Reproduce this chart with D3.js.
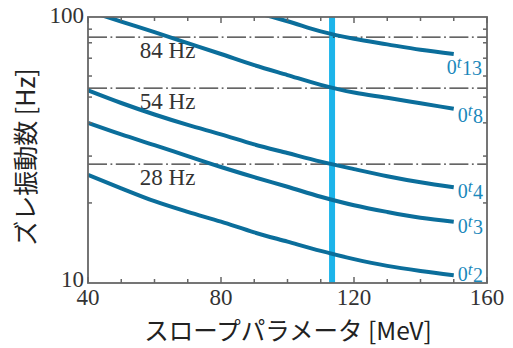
<!DOCTYPE html>
<html><head><meta charset="utf-8">
<script src="https://cdn.jsdelivr.net/npm/d3@7"></script>
<style>body{margin:0;background:#fff}svg{display:block}
.serif{font-family:"Liberation Serif","Times New Roman","DejaVu Serif",serif}
.cjk{font-family:"Noto Sans CJK JP","Noto Sans",sans-serif}</style>
</head><body><svg id="c" width="513" height="348"></svg>
<script>
// ---- data ----
const mev = [40, 50, 60, 70, 80, 90, 100, 110, 120, 130, 140, 150];
const t13 = [null, null, null, null, null, 104.3, 96.4, 88.3, 82.8, 78.9, 75.3, 72.6];
const t8  = [105.5, 96.1, 87.7, 79.8, 72.6, 65.9, 60.5, 55.6, 52.0, 49.7, 47.4, 45.2];
const t4  = [53.0, 47.5, 43.0, 39.3, 36.2, 33.2, 30.8, 28.6, 26.8, 25.2, 23.9, 22.9];
const t3  = [40.0, 36.2, 33.0, 30.0, 27.3, 25.0, 23.0, 21.1, 19.6, 18.5, 17.6, 17.0];
const t2  = [25.5, 22.7, 20.3, 18.5, 17.0, 15.5, 14.3, 13.2, 12.3, 11.6, 11.1, 10.7];
const seriesNames = ["13", "8", "4", "3", "2"];
const seriesValues = [t13, t8, t4, t3, t2];
const refFreqs = [84, 54, 28];
const refLabels = ["84 Hz", "54 Hz", "28 Hz"];
const slopeParam = 113.4;
const xTicks = [40, 80, 120, 160];
const yTicks = [10, 100];

// ---- layout ----
const W = 513, H = 348;
const m = {l: 88, r: 26, t: 17, b: 65};
const svg = d3.select("#c");
const x = d3.scaleLinear().domain([40, 160]).range([m.l, W - m.r]);
const y = d3.scaleLog().domain([10, 100]).range([H - m.b, m.t]);
const curveCol = "#0b6e9b", labelCol = "#1a88bb", vCol = "#1cb4ea", axCol = "#666";
const labelOffsets = [[-7, 20], [4, 13], [4, 11], [4, 11], [4, 6]];

svg.append("defs").append("clipPath").attr("id", "clip")
  .append("rect").attr("x", m.l).attr("y", m.t)
  .attr("width", W - m.r - m.l).attr("height", H - m.b - m.t);

// vertical line
svg.append("line")
  .attr("x1", x(slopeParam)).attr("x2", x(slopeParam))
  .attr("y1", y(100)).attr("y2", y(10))
  .attr("stroke", vCol).attr("stroke-width", 6);

// reference dash-dot lines
refFreqs.forEach((f, i) => {
  svg.append("line")
    .attr("x1", x(40)).attr("x2", x(160))
    .attr("y1", y(f)).attr("y2", y(f))
    .attr("stroke", "#333").attr("stroke-width", 1.3)
    .attr("stroke-dasharray", "19,3.5,1.8,3.5");
  svg.append("text").attr("class", "serif").attr("x", x(55.6)).attr("y", y(f) + 21)
    .attr("font-size", 23).attr("fill", "#333")
    .text(refLabels[i]);
});

// curves
const line = d3.line()
  .defined(d => d[1] != null)
  .x(d => x(d[0])).y(d => y(d[1]))
  .curve(d3.curveMonotoneX);
const g = svg.append("g").attr("clip-path", "url(#clip)");
seriesValues.forEach(vals => {
  g.append("path").datum(mev.map((v, i) => [v, vals[i]]))
    .attr("d", line).attr("fill", "none")
    .attr("stroke", curveCol).attr("stroke-width", 4);
});

// curve labels
seriesValues.forEach((vals, i) => {
  const lx = x(mev[mev.length - 1]) + labelOffsets[i][0];
  const ly = y(vals[vals.length - 1]) + labelOffsets[i][1];
  const t = svg.append("text").attr("class", "serif").attr("x", lx).attr("y", ly)
    .attr("fill", labelCol).attr("font-size", 20);
  t.append("tspan").text("0");
  t.append("tspan").attr("font-style", "italic").attr("font-size", 17).attr("dy", -6).text("t");
  t.append("tspan").attr("dy", 7).attr("dx", 0.5).text(seriesNames[i]);
});

// frame
svg.append("rect").attr("x", m.l).attr("y", m.t)
  .attr("width", W - m.r - m.l).attr("height", H - m.b - m.t)
  .attr("fill", "none").attr("stroke", axCol).attr("stroke-width", 1.8);

// x ticks (inward, bottom & top)
d3.range(40, 161, 10).forEach(v => {
  const len = (v % 40 === 0) ? 6 : 4;
  svg.append("line").attr("x1", x(v)).attr("x2", x(v))
    .attr("y1", y(10)).attr("y2", y(10) - len).attr("stroke", axCol).attr("stroke-width", 1.5);
  svg.append("line").attr("x1", x(v)).attr("x2", x(v))
    .attr("y1", y(100)).attr("y2", y(100) + len).attr("stroke", axCol).attr("stroke-width", 1.5);
});
// y ticks (log minor)
d3.range(20, 100, 10).forEach(v => {
  svg.append("line").attr("x1", x(40)).attr("x2", x(40) + 4)
    .attr("y1", y(v)).attr("y2", y(v)).attr("stroke", axCol).attr("stroke-width", 1.5);
  svg.append("line").attr("x1", x(160)).attr("x2", x(160) - 4)
    .attr("y1", y(v)).attr("y2", y(v)).attr("stroke", axCol).attr("stroke-width", 1.5);
});

// tick labels
xTicks.forEach(v => {
  svg.append("text").attr("class", "serif").attr("x", x(v)).attr("y", y(10) + 22)
    .attr("text-anchor", "middle")
    .attr("font-size", 23).attr("fill", "#333").text(v);
});
yTicks.forEach(v => {
  svg.append("text").attr("class", "serif").attr("x", m.l - 4).attr("y", y(v) + (v === 10 ? 4 : 6))
    .attr("text-anchor", "end")
    .attr("font-size", 23).attr("fill", "#333").text(v);
});

// axis titles
svg.append("text").attr("class", "cjk").attr("x", 288).attr("y", 340)
  .attr("text-anchor", "middle")
  .attr("font-size", 24.5).attr("fill", "#222").text("スロープパラメータ [MeV]");
svg.append("text").attr("class", "cjk").attr("transform", "translate(35,157) rotate(-90)")
  .attr("text-anchor", "middle")
  .attr("font-size", 25).attr("fill", "#222").text("ズレ振動数 [Hz]");
</script></body></html>
